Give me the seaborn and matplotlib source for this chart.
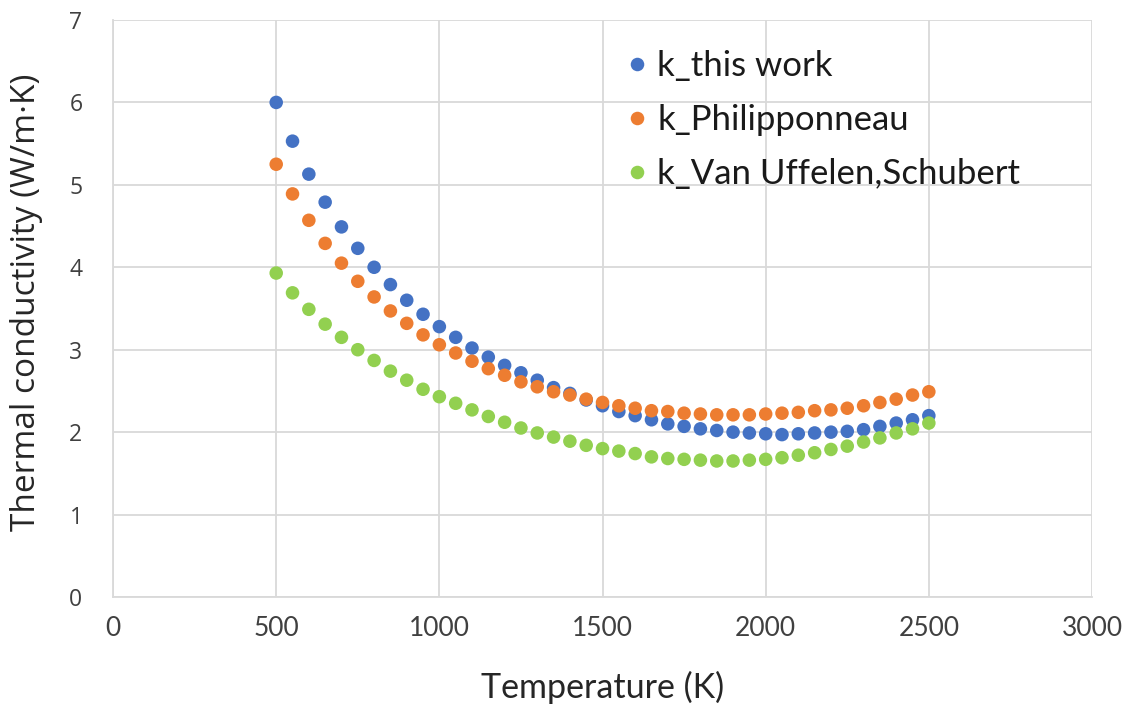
import numpy as np
import pandas as pd
import matplotlib
matplotlib.use("Agg")
import matplotlib.pyplot as plt
import seaborn as sns

temperature = list(range(500, 2501, 50))
k_this_work = [6.00, 5.53, 5.13, 4.79, 4.49, 4.23, 4.00, 3.79, 3.60, 3.43,
               3.28, 3.15, 3.02, 2.91, 2.81, 2.72, 2.63, 2.54, 2.47, 2.39,
               2.32, 2.25, 2.20, 2.15, 2.10, 2.07, 2.04, 2.02, 2.00, 1.99,
               1.98, 1.97, 1.98, 1.99, 2.00, 2.01, 2.03, 2.07, 2.11, 2.15, 2.20]
k_philipponneau = [5.25, 4.89, 4.57, 4.29, 4.05, 3.83, 3.64, 3.47, 3.32, 3.18,
                   3.06, 2.96, 2.86, 2.77, 2.69, 2.61, 2.55, 2.49, 2.45, 2.40,
                   2.36, 2.32, 2.29, 2.26, 2.25, 2.23, 2.22, 2.21, 2.21, 2.21,
                   2.22, 2.23, 2.24, 2.26, 2.27, 2.29, 2.32, 2.36, 2.40, 2.45, 2.49]
k_van_uffelen = [3.93, 3.69, 3.49, 3.31, 3.15, 3.00, 2.87, 2.74, 2.63, 2.52,
                 2.43, 2.35, 2.27, 2.19, 2.12, 2.05, 1.99, 1.94, 1.89, 1.84,
                 1.80, 1.77, 1.74, 1.70, 1.68, 1.67, 1.66, 1.65, 1.65, 1.66,
                 1.67, 1.69, 1.72, 1.75, 1.79, 1.83, 1.88, 1.93, 1.99, 2.04, 2.11]
series_names = ["k_this work", "k_Philipponneau", "k_Van Uffelen,Schubert"]
series_colors = ["#4472C4", "#ED7D31", "#92D050"]
x_ticks = [0, 500, 1000, 1500, 2000, 2500, 3000]
y_ticks = [0, 1, 2, 3, 4, 5, 6, 7]

df = pd.DataFrame({
    "T": temperature * 3,
    "k": k_this_work + k_philipponneau + k_van_uffelen,
    "series": [series_names[0]] * len(temperature)
              + [series_names[1]] * len(temperature)
              + [series_names[2]] * len(temperature),
})

sns.set_theme(style="white")
plt.rcParams["font.family"] = ["Open Sans", "DejaVu Sans"]

fig = plt.figure(figsize=(11.26, 7.04), dpi=100)
ax = fig.add_axes([0.1004, 0.152, 0.8694, 0.8196])

sns.scatterplot(data=df, x="T", y="k", hue="series", hue_order=series_names,
                palette=series_colors, s=95, linewidth=0, edgecolor="none",
                ax=ax, zorder=3)

ax.set_xlim(0, 3000)
ax.set_ylim(0, 7)
ax.set_xticks(x_ticks)
ax.set_yticks(y_ticks)
ax.grid(True, color="#d9d9d9", linewidth=1.3, zorder=0)
ax.set_axisbelow(True)
for side in ["top", "right"]:
    ax.spines[side].set_visible(False)
for side in ["left", "bottom"]:
    ax.spines[side].set_color("#d9d9d9")
    ax.spines[side].set_linewidth(1.3)
ax.tick_params(axis="both", length=0, colors="#404040")
for lbl in ax.get_xticklabels():
    lbl.set_fontfamily(["Lato", "DejaVu Sans"])
    lbl.set_fontsize(19)
    lbl.set_color("#404040")
for lbl in ax.get_yticklabels():
    lbl.set_fontsize(16.5)
    lbl.set_color("#404040")
ax.tick_params(axis="x", pad=14)
ax.tick_params(axis="y", pad=22)

ax.set_xlabel("Temperature (K)", fontsize=24.5, color="#262626", labelpad=21,
              fontfamily=["Lato", "DejaVu Sans"])
ax.set_ylabel("Thermal conductivity (W/m·K)", fontsize=24, color="#262626")
ax.yaxis.set_label_coords(-0.0715, 0.511)

leg = ax.legend(loc="upper left", bbox_to_anchor=(0.521, 0.948), frameon=False,
                markerscale=1.0, handlelength=0.8, handletextpad=0.18,
                borderpad=0, borderaxespad=0, labelspacing=0.63,
                prop={"family": ["Lato", "DejaVu Sans"], "size": 25})
for t in leg.get_texts():
    t.set_color("#1a1a1a")

fig.savefig("out.png", dpi=100)
